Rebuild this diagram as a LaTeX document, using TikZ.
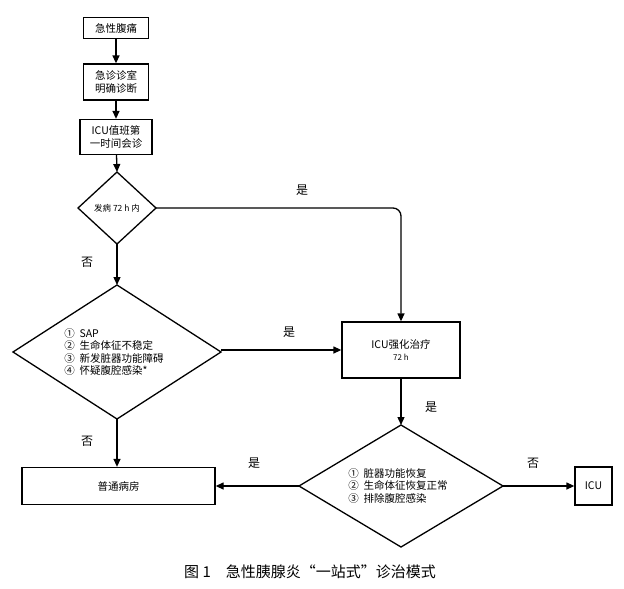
\documentclass[tikz,border=0pt]{standalone}
\usepackage{fontspec}
\setmainfont{Noto Sans CJK SC}
\usetikzlibrary{shapes.geometric,arrows.meta}
\begin{document}
\begin{tikzpicture}[x=1pt,y=-1pt,
  box/.style={draw,line width=1.3pt,minimum height=21pt,inner sep=1pt,font=\fontsize{10.5}{12.5}\selectfont,align=center},
  dia/.style={draw,line width=1.3pt,diamond,inner sep=0pt},
  arr/.style={line width=1.3pt,-{Triangle[length=8pt,width=7pt]}},
  lab/.style={font=\fontsize{12}{14}\selectfont},
  lst/.style={font=\fontsize{10.5}{12.5}\selectfont,align=left}]
\useasboundingbox (0,0) rectangle (624,589);
\node[box,minimum width=65pt] (a) at (116,28) {急性腹痛};
\node[box,minimum width=65pt,minimum height=36pt] (b) at (116,82) {急诊诊室\\明确诊断};
\node[box,minimum width=72pt,minimum height=35pt] (c) at (116,137) {ICU值班第\\一时间会诊};
\draw[dia] (117,172) -- (156,208) -- (117,244) -- (78,208) -- cycle;
\node[font=\fontsize{8.5}{10}\selectfont] (d1) at (117,208) {发病 72 h 内};
\coordinate (d1t) at (117,172); \coordinate (d1b) at (117,244); \coordinate (d1r) at (156,208);
\draw[dia] (117,285) -- (221,352) -- (117,419) -- (13,352) -- cycle;
\coordinate (d2t) at (117,285); \coordinate (d2b) at (117,419); \coordinate (d2r) at (221,350);
\node[lst] (d2) at (114,352) {① \ SAP\\② \ 生命体征不稳定\\③ \ 新发脏器功能障碍\\④ \ 怀疑腹腔感染*};
\node[box,minimum width=118pt,minimum height=56pt] (e) at (401,350) {ICU强化治疗\\[-1pt]{\fontsize{8}{9}\selectfont 72 h}};
\draw[dia] (401,425) -- (503,486) -- (401,547) -- (299,486) -- cycle;
\coordinate (d3t) at (401,425); \coordinate (d3l) at (299,486); \coordinate (d3r) at (503,486);
\node[lst] (d3) at (398,486) {① \ 脏器功能恢复\\② \ 生命体征恢复正常\\③ \ 排除腹腔感染};
\node[box,minimum width=193pt,minimum height=37pt] (f) at (118.5,486) {普通病房};
\node[box,minimum width=37pt,minimum height=38pt] (g) at (593.5,486) {ICU};
\draw[arr] (a) -- (b);
\draw[arr] (b) -- (c);
\draw[arr] (c) -- (d1t);
\draw[arr] (d1b) -- (d2t);
\draw[arr,rounded corners=8pt] (d1r) -- (401,208) -- (e.north);
\draw[arr] (d2r) -- (e.west |- d2r);
\draw[arr] (d2b) -- (f.north -| d2b);
\draw[arr] (e) -- (d3t);
\draw[arr] (d3r) -- (g);
\draw[arr] (d3l) -- (f);
\node[lab] at (302,190) {是};
\node[lab] at (87,262) {否};
\node[lab] at (289,332) {是};
\node[lab] at (431,407) {是};
\node[lab] at (87,441) {否};
\node[lab] at (254,463) {是};
\node[lab] at (533,463) {否};
\node[font=\fontsize{15}{17}\selectfont] (cap) at (310,572) {图 1\quad 急性胰腺炎“一站式”诊治模式};
\end{tikzpicture}
\end{document}
